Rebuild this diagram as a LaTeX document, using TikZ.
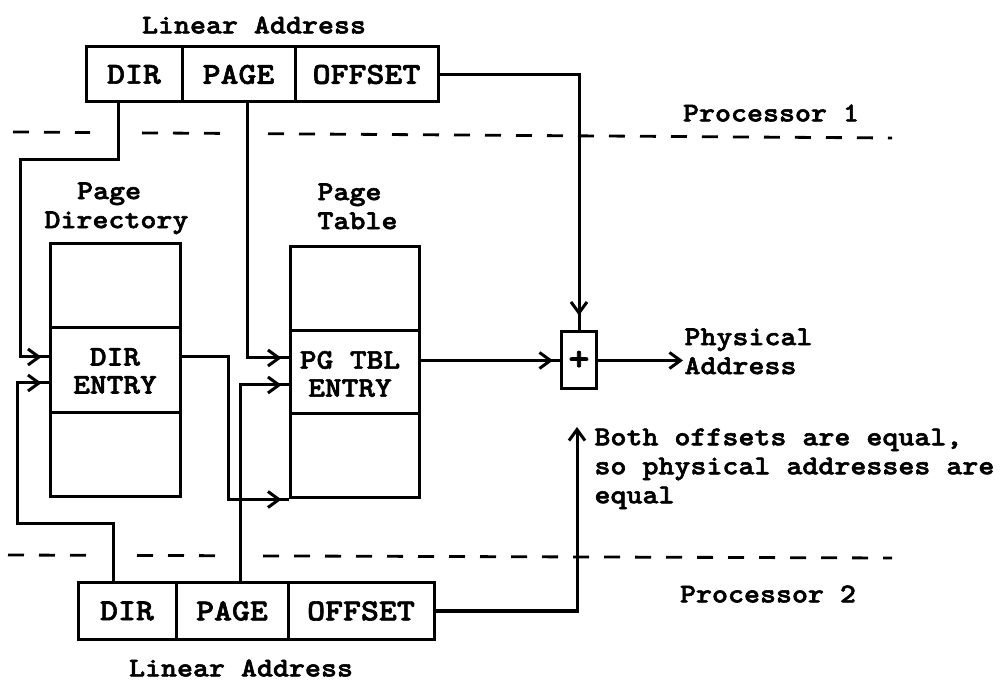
\documentclass[tikz,border=0pt]{standalone}
\usepackage{fontspec}
\newfontfamily\twf{lmmonolt10-bold}[Extension=.otf, FakeStretch=1.12, FakeBold=2]
\usetikzlibrary{arrows.meta,decorations.markings,calc}
\tikzset{
  tw/.style={font=\twf\fontsize{27.2}{29}\selectfont, inner sep=0pt},
  cell/.style={draw, line width=3pt, inner sep=0pt, minimum height=55pt,
    font=\twf\fontsize{30.5}{30}\selectfont},
  memtable/.style={draw, line width=3pt, inner sep=0pt},
  entrytext/.style={font=\twf\fontsize{28.4}{28}\selectfont, align=center, inner sep=0pt},
  wire/.style={line width=3pt},
  tipat/.style={postaction={decorate}, decoration={markings,
    mark=at position -#1 with {\arrow{Straight Barb[length=11pt,width=16pt]}}}},
  endtip/.style={-{Straight Barb[length=11pt,width=16pt]}},
  divider/.style={line width=2.8pt, dash pattern=on 16pt off 15pt}
}
\begin{document}
\begin{tikzpicture}[x=1pt,y=-1pt, line width=3pt]
\useasboundingbox (0,0) rectangle (1005,684);

% ---- top linear address
\node[tw, anchor=north] (tlin) at (254,15) {Linear Address};
\node[cell, minimum width=96pt]  (tdir)  at (134,74.5)   {DIR};
\node[cell, minimum width=113pt] (tpage) at (238.5,74.5) {PAGE};
\node[cell, minimum width=143pt] (toff)  at (366.5,74.5) {OFFSET};

% ---- processor labels and dividers
\node[tw, anchor=north] (p1) at (771,103) {Processor 1};
\node[tw, anchor=north] (p2) at (768,584) {Processor 2};
\draw[divider] (13,132) -- (90,132.5);
\draw[divider] (142,132.9) -- (222,133.4);
\draw[divider] (268,133.7) -- (892,138);
\draw[divider] (8,555) -- (90,555.3);
\draw[divider] (137,555.4) -- (217,555.7);
\draw[divider] (263,555.9) -- (892,558);

% ---- page directory
\node[tw, anchor=north west, align=left] (pdlab) at (43,181) {\hspace*{1.2em}Page\\Directory};
\node[memtable, minimum width=130pt, minimum height=253pt] (pdir) at (115,370.5) {};
\draw (pdir.west |- 0,328) -- (pdir.east |- 0,328);
\draw (pdir.west |- 0,413) -- (pdir.east |- 0,413);
\node[entrytext] (dirent) at (115,371) {DIR\\ENTRY};

% ---- page table
\node[tw, anchor=north west, align=left] (ptlab) at (316,182) {Page\\Table};
\node[memtable, minimum width=129pt, minimum height=251pt] (ptab) at (354.5,372.5) {};
\draw (ptab.west |- 0,331) -- (ptab.east |- 0,331);
\draw (ptab.west |- 0,414) -- (ptab.east |- 0,414);
\node[entrytext] (ptent) at (350,374) {PG TBL\\ENTRY};

% ---- adder and physical address
\node[cell, minimum width=35pt, minimum height=57pt, font=\twf\fontsize{36}{36}\selectfont] (plus) at (579,360.5) {+};
\node[tw, anchor=north west, align=left] (phys) at (683,327) {Physical\\Address};

% ---- note
\node[tw, anchor=north west, align=left] (note) at (593,427)
  {Both offsets are equal,\\so physical addresses are\\equal};
\coordinate (atip) at (577,427);

% ---- bottom linear address
\node[cell, minimum width=98pt, minimum height=56pt]  (bdir)  at (127,611) {DIR};
\node[cell, minimum width=112pt, minimum height=56pt] (bpage) at (232,611) {PAGE};
\node[cell, minimum width=146pt, minimum height=56pt] (boff)  at (361,611) {OFFSET};
\node[tw, anchor=north] (blin) at (241,658) {Linear Address};

% ---- connectors
\draw[wire, tipat=7pt] ($(tdir.south)+(-16,0)$) -- ++(0,56) -| (20,357) -- (pdir.west |- 0,357);
\draw[wire, tipat=7pt] ($(tpage.south)+(8.5,0)$) |- (ptab.west |- 0,358);
\draw[wire, tipat=15pt] (toff.east) -| (plus.north);
\draw[wire, tipat=7pt] (pdir.east |- 0,357) -- (228,357) |- (ptab.south west);
\draw[wire, tipat=7pt] ($(bdir.north)+(-14,0)$) -- ++(0,-58) -| (17,383) -- (pdir.west |- 0,383);
\draw[wire, tipat=7pt] ($(bpage.north)+(8,0)$) |- (ptab.west |- 0,385);
\draw[wire, tipat=7pt] (ptab.east |- plus.west) -- (plus.west);
\draw[wire, endtip] (plus.east) -- (phys.west |- plus.east);
\draw[wire, endtip] (boff.east) -| (atip);
\end{tikzpicture}
\end{document}
